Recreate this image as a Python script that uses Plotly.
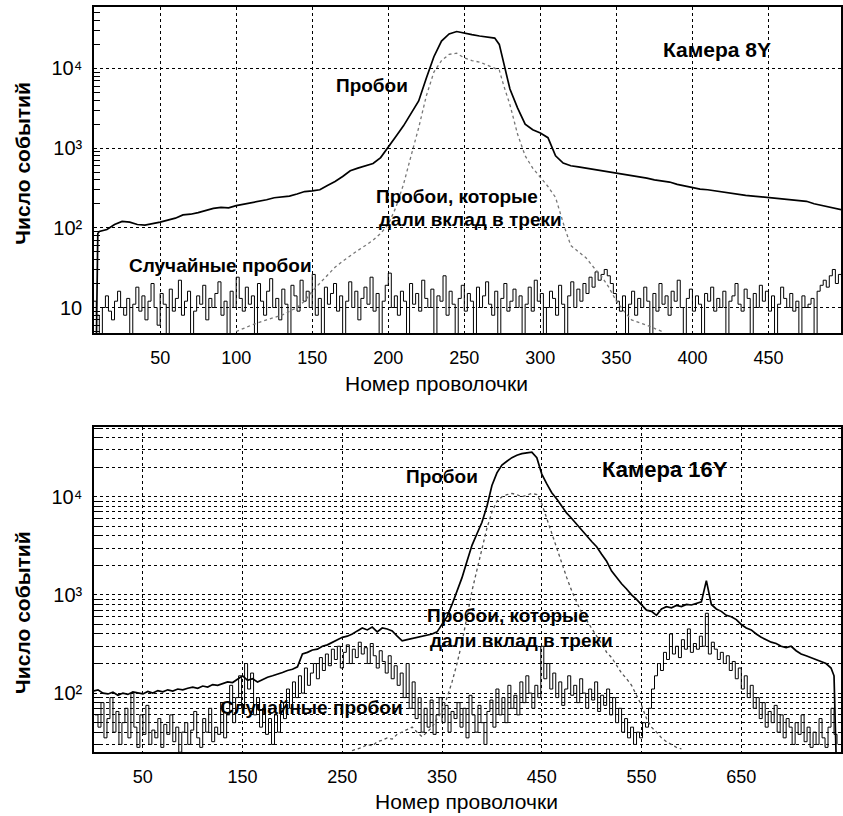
import plotly.graph_objects as go

# ---------------- Camera 8Y (top panel) ----------------
w8_total = [8, 9, 10, 15, 20, 25, 30, 35, 40, 45, 50, 55, 60, 65, 70, 75, 80, 85, 90, 95, 100,
            105, 110, 115, 120, 125, 130, 135, 140, 145, 150, 155, 160, 165, 170, 175, 180, 185,
            190, 195, 200, 205, 210, 215, 220, 225, 230, 235, 240, 245, 250, 255, 260, 265, 270,
            273, 275, 280, 285, 290, 295, 300, 305, 310, 315, 320, 325, 330, 335, 340, 345, 350,
            355, 360, 365, 370, 375, 380, 385, 390, 395, 400, 405, 410, 415, 420, 425, 430, 435,
            440, 445, 450, 455, 460, 465, 470, 475, 480, 485, 490, 495, 500]
v8_total = [3, 85, 90, 95, 110, 120, 118, 110, 108, 112, 118, 125, 132, 145, 148, 155, 165, 175,
            180, 178, 190, 198, 205, 215, 225, 238, 245, 250, 265, 285, 290, 300, 340, 380, 440,
            520, 560, 600, 640, 760, 1050, 1400, 1900, 2700, 3900, 7500, 14000, 22000, 27000,
            29000, 27500, 26500, 25500, 25000, 24000, 20000, 14000, 5500, 3200, 2000, 1700, 1550,
            1350, 800, 650, 600, 580, 560, 540, 520, 500, 480, 470, 455, 440, 420, 400, 390, 375,
            350, 335, 320, 305, 300, 290, 280, 270, 262, 255, 250, 245, 240, 235, 228, 222, 220,
            215, 200, 190, 180, 170, 165]

w8_tracks = [100, 110, 120, 130, 140, 145, 150, 155, 160, 165, 170, 175, 180, 185, 190, 195, 200,
             205, 210, 215, 220, 225, 230, 235, 240, 245, 250, 255, 260, 265, 270, 273, 276, 280,
             285, 290, 295, 300, 305, 310, 313, 316, 320, 325, 330, 335, 340, 345, 350, 355, 360,
             370, 380]
v8_tracks = [5, 6, 7, 8, 10, 12, 16, 20, 25, 32, 38, 45, 52, 60, 70, 85, 110, 180, 350, 800, 1800,
             4500, 9000, 12500, 15000, 15500, 13500, 12500, 12000, 11000, 10000, 9500, 6000, 3500,
             1500, 800, 560, 430, 330, 240, 150, 100, 60, 50, 42, 32, 25, 18, 12, 9, 7, 6, 5]

w8_random_start, w8_random_step = 6, 2
v8_random = [12, 8, 3, 10, 14, 9, 7, 12, 16, 10,
             8, 13, 3, 11, 18, 9, 14, 7, 12, 20,
             10, 6, 15, 11, 3, 17, 9, 13, 22, 8,
             12, 16, 3, 9, 14, 11, 19, 7, 13, 10,
             15, 21, 8, 12, 3, 16, 10, 24, 13, 9,
             18, 11, 14, 3, 20, 12, 8, 16, 23, 10,
             13, 7, 17, 11, 3, 19, 14, 9, 22, 12,
             16, 10, 26, 8, 13, 3, 18, 11, 15, 20,
             9, 14, 3, 12, 21, 10, 16, 7, 13, 18,
             11, 24, 9, 15, 3, 12, 19, 27, 10, 14,
             8, 16, 12, 3, 20, 11, 15, 9, 22, 13,
             10, 17, 3, 14, 12, 25, 8, 16, 11, 3,
             13, 19, 9, 15, 12, 3, 18, 10, 14, 21,
             11, 8, 16, 3, 13, 20, 9, 12, 17, 10,
             14, 3, 11, 18, 9, 22, 12, 15, 3, 10,
             16, 13, 8, 19, 11, 3, 14, 21, 10, 17,
             12, 20, 15, 24, 18, 28, 22, 26, 30, 25,
             20, 15, 12, 9, 14, 3, 11, 16, 8, 13,
             10, 18, 12, 3, 15, 9, 20, 11, 14, 8,
             16, 12, 22, 10, 3, 13, 17, 9, 14, 11,
             3, 15, 12, 18, 9, 13, 10, 16, 3, 12,
             14, 20, 11, 9, 17, 13, 3, 15, 10, 19,
             12, 16, 9, 14, 3, 11, 18, 13, 10, 15,
             9, 12, 3, 14, 10, 11, 13, 3, 16, 19,
             22, 18, 25, 30, 20, 26, 24]
w8_random = [w8_random_start + w8_random_step * i for i in range(len(v8_random))]

# ---------------- Camera 16Y (bottom panel) ----------------
w16_total = sorted(set(list(range(0, 745, 5)) + [743, 745]))
v16_total = [105, 108, 100, 98, 102, 95, 100, 97, 103, 100, 98, 104, 100, 106, 103, 108, 105, 110,
             108, 112, 115, 112, 118, 115, 122, 120, 125, 130, 128, 140, 150, 135, 140, 130, 138,
             145, 150, 155, 162, 170, 175, 185, 250, 260, 275, 280, 300, 310, 330, 345, 370, 380,
             400, 430, 460, 440, 470, 420, 460, 450, 430, 380, 340, 350, 360, 370, 380, 390, 400,
             420, 500, 600, 800, 1100, 1500, 2200, 3200, 4200, 5500, 8000, 13000, 17500, 21000,
             23000, 25000, 26500, 27500, 28000, 28500, 25000, 17000, 13500, 11000, 9500, 8000,
             6800, 6000, 5200, 4600, 4000, 3500, 3100, 2600, 2200, 1750, 1500, 1300, 1150, 1000,
             900, 800, 700, 680, 620, 720, 760, 740, 780, 760, 800, 790, 820, 850, 1400, 800, 720,
             680, 620, 600, 560, 500, 460, 440, 400, 370, 350, 330, 320, 300, 290, 300, 270, 250,
             240, 230, 220, 210, 200, 180, 150, 25]

w16_tracks = list(range(250, 595, 5))
v16_tracks = [22, 24, 26, 27, 28, 30, 29, 32, 33, 35, 34, 38, 40, 42, 45, 40, 36, 40, 45, 55, 65,
              90, 130, 200, 330, 600, 1100, 1800, 3000, 4800, 7000, 9000, 10000, 10500, 10800,
              10500, 10000, 10300, 10800, 10500, 8500, 6000, 4200, 3000, 2100, 1500, 1100, 850,
              650, 550, 450, 380, 320, 260, 230, 190, 160, 140, 120, 95, 75, 55, 45, 40, 35, 32,
              30, 28, 27]

w16_random_start, w16_random_step = 2, 3
v16_random = [60, 45, 80, 35, 55, 90, 40, 65, 30, 50,
              70, 35, 100, 45, 28, 60, 38, 75, 30, 42,
              35, 55, 28, 48, 38, 60, 32, 45, 25, 40,
              50, 30, 42, 65, 35, 28, 55, 40, 70, 32,
              45, 38, 80, 35, 60, 120, 50, 90, 150, 70,
              200, 110, 160, 60, 90, 45, 70, 38, 55, 30,
              60, 40, 80, 55, 110, 70, 130, 90, 150, 100,
              180, 120, 160, 200, 140, 230, 170, 250, 190, 280,
              220, 300, 180, 260, 310, 200, 280, 230, 330, 250,
              290, 200, 320, 240, 180, 270, 210, 160, 240, 140,
              190, 120, 160, 90, 200, 70, 130, 55, 90, 40,
              70, 45, 85, 38, 60, 90, 50, 75, 40, 65,
              55, 80, 45, 70, 35, 95, 60, 40, 75, 50,
              30, 65, 85, 45, 110, 60, 90, 50, 120, 70,
              95, 60, 130, 80, 150, 100, 70, 120, 90, 300,
              140, 200, 110, 160, 90, 130, 75, 110, 150, 95,
              120, 80, 140, 100, 70, 110, 85, 130, 65, 95,
              75, 110, 60, 90, 50, 70, 40, 55, 35, 45,
              30, 40, 35, 50, 45, 70, 110, 150, 200, 170,
              260, 220, 400, 250, 300, 230, 350, 280, 450, 260,
              320, 280, 380, 300, 650, 250, 330, 280, 220, 260,
              200, 240, 170, 210, 140, 180, 110, 150, 90, 120,
              70, 90, 55, 80, 45, 65, 50, 75, 40, 60,
              35, 55, 45, 30, 50, 38, 60, 32, 45, 28,
              40, 30, 55, 35, 28, 45, 70, 38, 30]
w16_random = [w16_random_start + w16_random_step * i for i in range(len(v16_random))]

top_xticks = [50, 100, 150, 200, 250, 300, 350, 400, 450]
bot_xticks = [50, 150, 250, 350, 450, 550, 650]
top_yticks = [10, 100, 1000, 10000]
top_yticktext = ["10", "10²", "10³", "10⁴"]
bot_yticks = [100, 1000, 10000]
bot_yticktext = ["10²", "10³", "10⁴"]
minor_vals = [m * 10 ** e for e in range(0, 5) for m in range(2, 10)]

FONT = "Liberation Sans, Arial, sans-serif"

fig = go.Figure()

# top panel
fig.add_trace(go.Scatter(x=w8_random, y=v8_random, mode="lines", line=dict(color="black", width=1, shape="hv"),
                         xaxis="x", yaxis="y", showlegend=False))
fig.add_trace(go.Scatter(x=w8_tracks, y=v8_tracks, mode="lines", line=dict(color="#777777", width=1.3, dash="dot"),
                         xaxis="x", yaxis="y", showlegend=False))
fig.add_trace(go.Scatter(x=w8_total, y=v8_total, mode="lines", line=dict(color="black", width=1.7),
                         xaxis="x", yaxis="y", showlegend=False))
# bottom panel
fig.add_trace(go.Scatter(x=w16_random, y=v16_random, mode="lines", line=dict(color="black", width=1, shape="hv"),
                         xaxis="x2", yaxis="y2", showlegend=False))
fig.add_trace(go.Scatter(x=w16_tracks, y=v16_tracks, mode="lines", line=dict(color="#555555", width=1.3, dash="dot"),
                         xaxis="x2", yaxis="y2", showlegend=False))
fig.add_trace(go.Scatter(x=w16_total, y=v16_total, mode="lines", line=dict(color="black", width=1.7),
                         xaxis="x2", yaxis="y2", showlegend=False))

axis_common = dict(showline=True, linecolor="black", linewidth=1.5, mirror=True,
                   showgrid=True, gridcolor="black", gridwidth=1, griddash="dot",
                   zeroline=False)

fig.update_layout(
    width=843, height=816,
    margin=dict(l=94, r=0, t=7, b=64),
    paper_bgcolor="white", plot_bgcolor="white",
    xaxis=dict(domain=[0, 1], range=[6.5, 497.7], tickmode="array", tickvals=top_xticks,
               anchor="y", ticks="", ticklabelstandoff=8,
               tickfont=dict(family=FONT, size=18, color="black"), **axis_common),
    yaxis=dict(domain=[0.5624, 1], type="log", range=[0.68, 4.77], tickmode="array",
               tickvals=top_yticks, ticktext=top_yticktext, anchor="x", ticks="",
               ticklabelstandoff=6, tickfont=dict(family=FONT, size=20, color="black"),
               minor=dict(tickmode="array", tickvals=minor_vals, ticks="inside", ticklen=6,
                          tickcolor="black", showgrid=False),
               **axis_common),
    xaxis2=dict(domain=[0, 1], range=[1, 750], tickmode="array", tickvals=bot_xticks,
                anchor="y2", ticks="", ticklabelstandoff=8,
                tickfont=dict(family=FONT, size=18, color="black"), **axis_common),
    yaxis2=dict(domain=[0, 0.4362], type="log", range=[1.4, 4.71], tickmode="array",
                tickvals=bot_yticks, ticktext=bot_yticktext, anchor="x2", ticks="",
                ticklabelstandoff=6, tickfont=dict(family=FONT, size=20, color="black"),
                minor=dict(tickmode="array", tickvals=minor_vals, ticks="inside", ticklen=6,
                           tickcolor="black", showgrid=True, gridcolor="black", griddash="dot",
                           gridwidth=1),
                **axis_common),
)

def lab(text, x, y, xref, yref, size=19, bold=True, angle=0):
    fig.add_annotation(text=text, x=x, y=y, xref=xref, yref=yref, showarrow=False,
                       textangle=angle,
                       font=dict(family=FONT, size=size, color="black",
                                 weight="bold" if bold else "normal"),
                       xanchor="center", yanchor="middle")

# top panel labels (data coordinates; y in log10 units)
lab("Камера 8Y", 416, 4.24, "x", "y", size=21)
lab("Пробои", 189, 3.785, "x", "y")
lab("Пробои, которые", 245, 2.392, "x", "y")
lab("дали вклад в треки", 254, 2.10, "x", "y")
lab("Случайные пробои", 90, 1.532, "x", "y")
# bottom panel labels
lab("Камера 16Y", 574, 4.276, "x2", "y2", size=22)
lab("Пробои", 350, 4.204, "x2", "y2")
lab("Пробои, которые", 416, 2.786, "x2", "y2")
lab("дали вклад в треки", 430, 2.54, "x2", "y2")
lab("Случайные пробои", 219, 1.857, "x2", "y2")

# axis titles
lab("Номер проволочки", 0.459, 0.494, "paper", "paper", size=21, bold=False)
lab("Номер проволочки", 0.498, -0.066, "paper", "paper", size=21, bold=False)
lab("Число событий", -0.0961, 0.79, "paper", "paper", size=21, bold=True, angle=-90)
lab("Число событий", -0.0961, 0.187, "paper", "paper", size=21, bold=True, angle=-90)

fig.write_html("out.html")
